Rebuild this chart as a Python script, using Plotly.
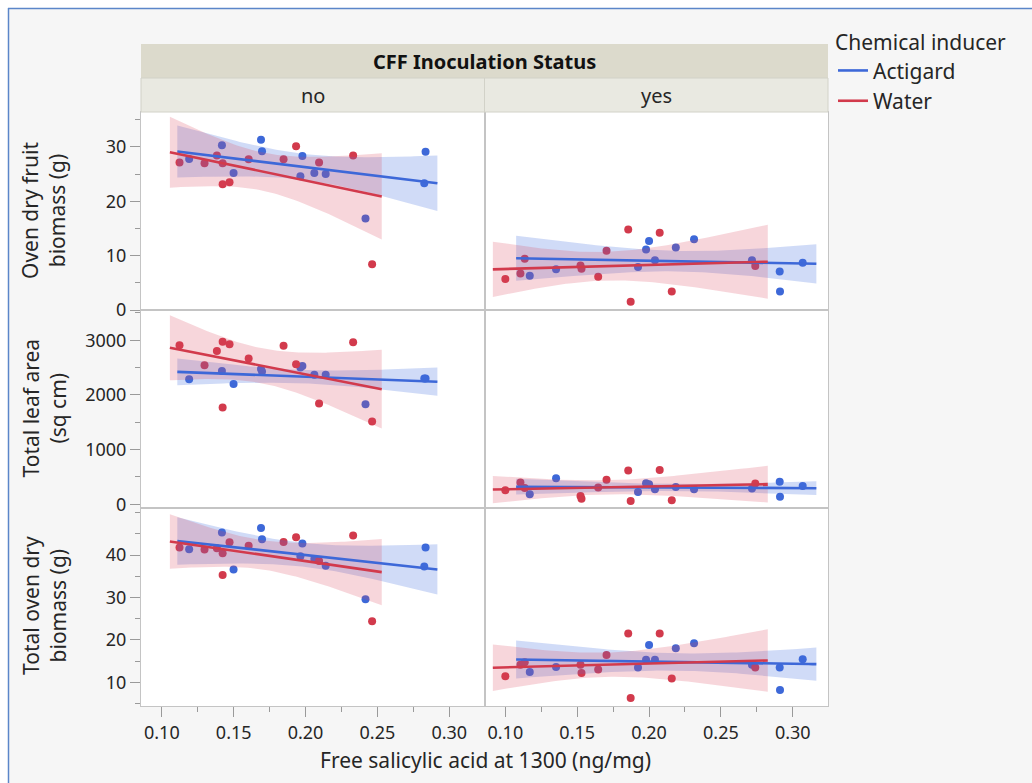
import numpy as np
import plotly.graph_objects as go
from plotly.subplots import make_subplots

# ---------------- data ----------------
groups = ["Actigard", "Water"]
panels = ["no", "yes"]
measures = ["Oven dry fruit<br>biomass (g)", "Total leaf area<br>(sq cm)", "Total oven dry<br>biomass (g)"]

x_no_actigard = [0.119, 0.1418, 0.1499, 0.169, 0.1697, 0.1964, 0.1978, 0.2061, 0.214, 0.2417, 0.2835, 0.2826]
x_no_water = [0.1123, 0.1297, 0.1383, 0.1423, 0.1423, 0.1471, 0.1604, 0.1847, 0.1934, 0.2094, 0.2331, 0.2463]
x_yes_actigard = [0.117, 0.1353, 0.1923, 0.1979, 0.2, 0.2041, 0.2186, 0.2313, 0.2716, 0.2909, 0.2911, 0.3069]
x_yes_water = [0.100, 0.1105, 0.1135, 0.1523, 0.153, 0.1646, 0.1704, 0.1855, 0.1872, 0.2074, 0.2158, 0.2739]

fruit_no_actigard = [27.75, 30.3, 25.2, 31.3, 29.2, 24.6, 28.3, 25.2, 25.0, 16.8, 29.1, 23.3]
fruit_no_water = [27.1, 27.0, 28.4, 27.0, 23.1, 23.5, 27.7, 27.7, 30.1, 27.1, 28.4, 8.4]
fruit_yes_actigard = [6.3, 7.5, 7.9, 11.1, 12.7, 9.15, 11.5, 13.0, 9.15, 7.1, 3.4, 8.7]
fruit_yes_water = [5.7, 6.7, 9.4, 8.2, 7.6, 6.1, 10.9, 14.8, 1.5, 14.2, 3.4, 8.1]

leaf_no_actigard = [2285, 2438, 2199, 2474, 2430, 2500, 2530, 2371, 2371, 1831, 2298, 2298]
leaf_no_water = [2910, 2542, 2805, 2971, 1770, 2928, 2665, 2897, 2561, 1844, 2965, 1513]
leaf_yes_actigard = [183, 478, 226, 386, 367, 275, 318, 275, 287, 410, 140, 336]
leaf_yes_water = [257, 397, 300, 153, 103, 306, 447, 618, 61, 625, 73, 379]

total_no_actigard = [41.4, 45.3, 36.6, 46.4, 43.7, 39.7, 42.7, 39.1, 37.5, 29.6, 41.8, 37.3]
total_no_water = [41.8, 41.3, 41.6, 40.4, 35.3, 43.0, 42.2, 43.1, 44.2, 38.6, 44.6, 24.4]
total_yes_actigard = [12.4, 13.6, 13.5, 15.3, 18.8, 15.3, 18.0, 19.2, 14.1, 13.5, 8.2, 15.4]
total_yes_water = [11.4, 14.1, 14.7, 14.1, 12.2, 13.0, 16.4, 21.5, 6.3, 21.5, 10.9, 13.5]

x_ticks = [0.10, 0.15, 0.20, 0.25, 0.30]
x_tick_labels = ["0.10", "0.15", "0.20", "0.25", "0.30"]
y_ticks = [[0, 10, 20, 30], [0, 1000, 2000, 3000], [10, 20, 30, 40]]

# ---------------- styling ----------------
COL = {"Actigard": "#3d68d8", "Water": "#d23a4c"}
BAND = {"Actigard": "rgba(66,110,225,0.25)", "Water": "rgba(220,70,90,0.22)"}
FONT = "Noto Sans, Open Sans, sans-serif"
TXT = "#262626"
FS = 21      # titles / legend
TFS = 18     # tick labels

X_DATA = {("no", "Actigard"): x_no_actigard, ("no", "Water"): x_no_water,
          ("yes", "Actigard"): x_yes_actigard, ("yes", "Water"): x_yes_water}
Y_DATA = [
    {("no", "Actigard"): fruit_no_actigard, ("no", "Water"): fruit_no_water,
     ("yes", "Actigard"): fruit_yes_actigard, ("yes", "Water"): fruit_yes_water},
    {("no", "Actigard"): leaf_no_actigard, ("no", "Water"): leaf_no_water,
     ("yes", "Actigard"): leaf_yes_actigard, ("yes", "Water"): leaf_yes_water},
    {("no", "Actigard"): total_no_actigard, ("no", "Water"): total_no_water,
     ("yes", "Actigard"): total_yes_actigard, ("yes", "Water"): total_yes_water},
]

T975 = {1: 12.706, 2: 4.303, 3: 3.182, 4: 2.776, 5: 2.571, 6: 2.447, 7: 2.365, 8: 2.306,
        9: 2.262, 10: 2.228, 11: 2.201, 12: 2.179, 13: 2.160, 14: 2.145, 15: 2.131}


def linfit(x, y):
    x = np.asarray(x, float)
    y = np.asarray(y, float)
    n = len(x)
    xb, yb = x.mean(), y.mean()
    sxx = ((x - xb) ** 2).sum()
    b1 = ((x - xb) * (y - yb)).sum() / sxx
    b0 = yb - b1 * xb
    s = np.sqrt(((y - b0 - b1 * x) ** 2).sum() / (n - 2))
    t = T975.get(n - 2, 2.0)
    r = x.max() - x.min()
    xs = np.linspace(x.min() - 0.05 * r, x.max() + 0.05 * r, 80)
    yh = b0 + b1 * xs
    se = s * np.sqrt(1.0 / n + (xs - xb) ** 2 / sxx)
    return xs, yh, yh - t * se, yh + t * se


fig = make_subplots(rows=3, cols=2, horizontal_spacing=0, vertical_spacing=0)

legend_done = set()
for r in range(3):
    for c, p in enumerate(panels):
        # points first (bands drawn over them)
        for g in groups:
            fig.add_trace(go.Scatter(x=X_DATA[(p, g)], y=Y_DATA[r][(p, g)], mode="markers",
                                     marker=dict(color=COL[g], size=8), showlegend=False,
                                     hoverinfo="x+y"), row=r + 1, col=c + 1)
        fits = {g: linfit(X_DATA[(p, g)], Y_DATA[r][(p, g)]) for g in groups}
        for g in groups:
            xs, yh, lo, hi = fits[g]
            fig.add_trace(go.Scatter(x=np.concatenate([xs, xs[::-1]]), y=np.concatenate([hi, lo[::-1]]),
                                     mode="lines", fill="toself", fillcolor=BAND[g],
                                     line=dict(width=0), showlegend=False, hoverinfo="skip"),
                          row=r + 1, col=c + 1)
        for g in groups:
            xs, yh, lo, hi = fits[g]
            fig.add_trace(go.Scatter(x=xs, y=yh, mode="lines", line=dict(color=COL[g], width=2.6),
                                     name=g, showlegend=g not in legend_done, legendgroup=g),
                          row=r + 1, col=c + 1)
            legend_done.add(g)

# ---------------- axes ----------------
y_ranges = [[0, 36.4], [-68, 3553], [4.4, 51.1]]
y_minor = [5, 500, 5]
for r in range(3):
    for c in range(2):
        fig.update_xaxes(range=[0.0855, 0.3245], showgrid=False, zeroline=False,
                         showline=True, mirror=True, linecolor="#c4c4c4", linewidth=1,
                         tickvals=x_ticks, ticktext=x_tick_labels,
                         showticklabels=(r == 2), ticks="outside" if r == 2 else "",
                         ticklen=10, tickcolor="#9a9a9a",
                         minor=dict(dtick=0.025, tick0=0.1, ticks="outside" if r == 2 else "",
                                    ticklen=5, tickcolor="#9a9a9a"),
                         tickfont=dict(family=FONT, size=TFS, color=TXT),
                         row=r + 1, col=c + 1)
        fig.update_yaxes(range=y_ranges[r], showgrid=False, zeroline=False,
                         showline=True, mirror=True, linecolor="#c4c4c4", linewidth=1,
                         tickvals=y_ticks[r], showticklabels=(c == 0),
                         ticks="outside" if c == 0 else "", ticklen=10, tickcolor="#9a9a9a",
                         minor=dict(dtick=y_minor[r], tick0=0, ticks="outside" if c == 0 else "",
                                    ticklen=5, tickcolor="#9a9a9a"),
                         tickfont=dict(family=FONT, size=TFS, color=TXT),
                         row=r + 1, col=c + 1)

# ---------------- layout ----------------
L, R, T, B = 141, 204, 112, 77
W, H = 1032, 783
PW, PH = W - L - R, H - T - B


def px(xp):
    return (xp - L) / PW


def py(yp):
    return (H - B - yp) / PH


shapes = [
    # white outside the blue frame
    dict(type="rect", xref="paper", yref="paper", x0=px(0), x1=px(W), y0=py(8), y1=py(0),
         fillcolor="white", line=dict(width=0), layer="below"),
    dict(type="rect", xref="paper", yref="paper", x0=px(0), x1=px(8), y0=py(H), y1=py(0),
         fillcolor="white", line=dict(width=0), layer="below"),
    dict(type="line", xref="paper", yref="paper", x0=px(8), x1=px(W), y0=py(8.5), y1=py(8.5),
         line=dict(color="#5b86c9", width=1.5)),
    dict(type="line", xref="paper", yref="paper", x0=px(8.5), x1=px(8.5), y0=py(8), y1=py(H),
         line=dict(color="#5b86c9", width=1.5)),
    # header bands
    dict(type="rect", xref="paper", yref="paper", x0=0, x1=1, y0=py(78), y1=py(44),
         fillcolor="#dcdacc", line=dict(width=0)),
    dict(type="rect", xref="paper", yref="paper", x0=0, x1=0.5, y0=py(112), y1=py(78),
         fillcolor="#e9e9e1", line=dict(color="#d2d2c8", width=1)),
    dict(type="rect", xref="paper", yref="paper", x0=0.5, x1=1, y0=py(112), y1=py(78),
         fillcolor="#e9e9e1", line=dict(color="#d2d2c8", width=1)),
]

annotations = [
    dict(text="<b>CFF Inoculation Status</b>", x=0.5, y=py(61), xref="paper", yref="paper",
         xanchor="center", yanchor="middle", showarrow=False,
         font=dict(family=FONT, size=FS - 1, color="#111")),
    dict(text="no", x=0.25, y=py(95), xref="paper", yref="paper", xanchor="center",
         yanchor="middle", showarrow=False, font=dict(family=FONT, size=FS - 1, color=TXT)),
    dict(text="yes", x=0.75, y=py(95), xref="paper", yref="paper", xanchor="center",
         yanchor="middle", showarrow=False, font=dict(family=FONT, size=FS - 1, color=TXT)),
    dict(text="Free salicylic acid at 1300 (ng/mg)", x=px(485), y=py(760), xref="paper",
         yref="paper", xanchor="center", yanchor="middle", showarrow=False,
         font=dict(family=FONT, size=FS, color=TXT)),
]
row_centers = [211, 408.5, 606]
for r in range(3):
    annotations.append(dict(text=measures[r], x=px(44), y=py(row_centers[r]), xref="paper",
                            yref="paper", xanchor="center", yanchor="middle",
                            showarrow=False, textangle=-90,
                            font=dict(family=FONT, size=FS, color=TXT)))

fig.update_layout(
    width=W, height=H, margin=dict(l=L, r=R, t=T, b=B, pad=0),
    paper_bgcolor="#f6f6f6", plot_bgcolor="white",
    shapes=shapes, annotations=annotations,
    legend=dict(title=dict(text="Chemical inducer", font=dict(family=FONT, size=FS, color=TXT)),
                x=px(833), y=py(23), xanchor="left", yanchor="top", xref="paper", yref="paper",
                font=dict(family=FONT, size=FS, color=TXT), bgcolor="rgba(0,0,0,0)",
                itemwidth=30, tracegroupgap=0),
    showlegend=True,
)

fig.write_html("out.html")
